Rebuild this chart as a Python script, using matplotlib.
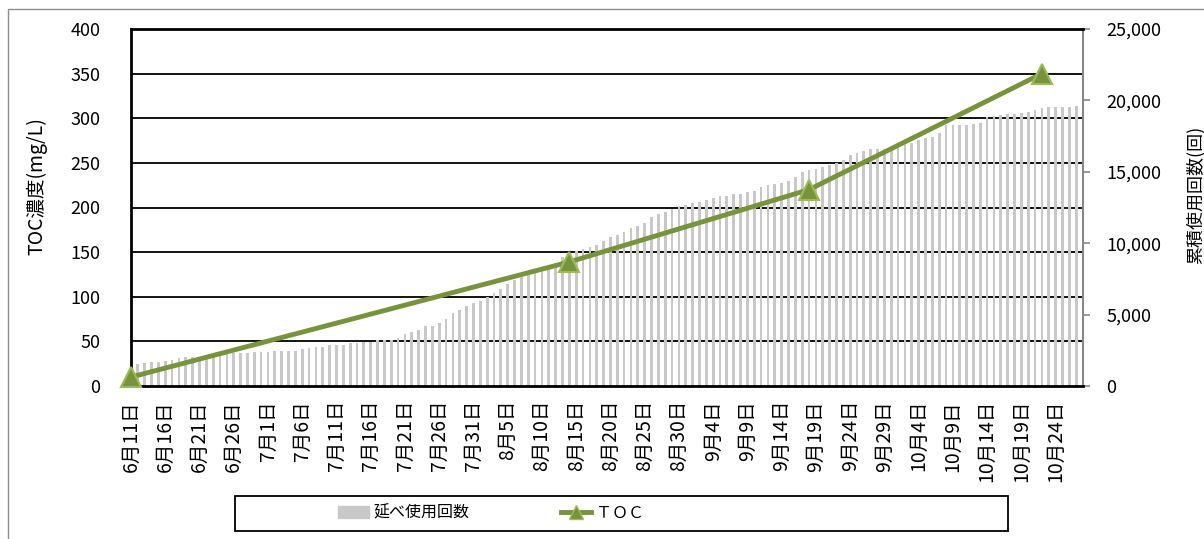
import numpy as np
import pandas as pd
import matplotlib
matplotlib.use('Agg')
import matplotlib.pyplot as plt
from matplotlib.patches import Rectangle, Patch
from matplotlib.lines import Line2D
from matplotlib.ticker import MultipleLocator, FuncFormatter

plt.rcParams['font.family'] = ['Noto Sans CJK JP', 'DejaVu Sans']

# daily categories 6/11 .. 10/28
dates = pd.date_range('2013-06-11', periods=140, freq='D')
day_labels = ['{}月{}日'.format(d.month, d.day) for d in dates]

# cumulative usage count (right axis)
usage_count = [
    1450, 1517, 1587, 1704, 1704, 1774, 1821, 1938, 2008, 2054,
    2054, 2171, 2218, 2218, 2218, 2288, 2288, 2288, 2358, 2358,
    2358, 2475, 2475, 2475, 2475, 2591, 2638, 2755, 2755, 2871,
    2871, 2871, 2988, 3034, 3104, 3104, 3221, 3221, 3221, 3338,
    3642, 3805, 3922, 4202, 4202, 4435,
    4670, 5090, 5320, 5600, 5830, 5970, 6210, 6490, 6770, 7140,
    7420, 7610, 7770, 8000, 8170, 8400, 8630, 9010, 9170, 9470,
    9570, 9760, 9870, 10170, 10410, 10570, 10800, 11040, 11200, 11430,
    11850, 12020, 12200, 12370, 12620, 12670, 12790, 12910, 13030, 13140,
    13310, 13310, 13450, 13450, 13560, 13680,
    13960, 14080, 14150, 14240, 14360, 14660, 15010, 15130, 15200, 15360,
    15480, 15600, 15830, 16180, 16340, 16480, 16570, 16570, 16600, 16620,
    16760, 16880, 17040, 17230, 17340, 17460, 17740, 18280, 18280, 18280,
    18280, 18350, 18440, 18810, 18910, 18980, 19020, 19020, 19090, 19210,
    19330, 19440, 19560, 19560, 19560, 19560, 19610, 19650,
]

# TOC measurements (left axis)
toc_days = ['6月11日', '8月14日', '9月18日', '10月22日']
toc_values = [10, 139, 220, 350]

bar_color = '#c8c8c8'
line_color = '#77933C'

x = np.arange(len(day_labels))
toc_x = [day_labels.index(d) for d in toc_days]

fig = plt.figure(figsize=(12.04, 5.39), dpi=100)
ax = fig.add_axes([131 / 1204, 1 - 386 / 539, 952 / 1204, 357 / 539])

ax.bar(x, usage_count, width=0.4, color=bar_color, zorder=2)
ax.set_xlim(0, len(x) - 1)
ax.set_ylim(0, 25000)

ax2 = ax.twinx()
ax2.plot(toc_x, toc_values, color=line_color, lw=3.5, marker='^', ms=14,
         mfc=line_color, mec='#9BBB59', mew=1.5, clip_on=False, zorder=5)
ax2.set_ylim(0, 400)

# bars axis -> right side, TOC axis -> left side
ax.yaxis.tick_right()
ax.yaxis.set_major_locator(MultipleLocator(5000))
ax.yaxis.set_major_formatter(FuncFormatter(lambda v, p: '{:,.0f}'.format(v)))
ax.yaxis.set_minor_locator(MultipleLocator(25000 / 8))
ax.grid(which='minor', axis='y', color='black', lw=1.3)
ax.set_axisbelow(True)
ax.tick_params(axis='y', which='major', direction='out', length=5, width=1.2,
               color='#888888', pad=12, labelsize=13)
ax.tick_params(axis='y', which='minor', length=0)

ax2.yaxis.tick_left()
ax2.yaxis.set_major_locator(MultipleLocator(50))
ax2.tick_params(axis='y', length=0, pad=22, labelsize=13)
for s in ax2.spines.values():
    s.set_visible(False)

ax.set_xticks(x[::5])
ax.set_xticklabels(day_labels[::5], rotation=90, fontsize=14)
ax.set_xticks(x[10::10], minor=True)
ax.tick_params(axis='x', which='major', length=0, pad=10)
ax.tick_params(axis='x', which='minor', direction='in', length=6, width=1.5)

for s in ['left', 'top', 'bottom']:
    ax.spines[s].set_linewidth(2)
    ax.spines[s].set_color('black')
ax.spines['right'].set_color('#888888')
ax.spines['right'].set_linewidth(1.5)

fig.text(37 / 1204, 1 - 186 / 539, 'TOC濃度(mg/L)', rotation=90,
         ha='center', va='center', fontsize=14)
fig.text(1195 / 1204, 1 - 195 / 539, '累積使用回数(回)', rotation=90,
         ha='center', va='center', fontsize=13)

handles = [Patch(facecolor=bar_color, edgecolor=bar_color),
           Line2D([], [], color=line_color, lw=3.5, marker='^', ms=10,
                  mfc=line_color, mec='#9BBB59')]
fig.legend(handles, ['延べ使用回数', 'ＴＯＣ'], loc='center left',
           bbox_to_anchor=(324 / 1204, 1 - 513 / 539), ncol=2, frameon=False,
           fontsize=11.5, handlelength=1.9, columnspacing=5.7, handletextpad=0.3)

fig.patches.append(Rectangle((235 / 1204, 1 - 531 / 539), 773 / 1204, 35 / 539,
                             transform=fig.transFigure, fill=False,
                             edgecolor='black', lw=1.3))
fig.patches.append(Rectangle((8 / 1204, -0.1), 1.2, 1 - 9 / 539 + 0.1,
                             transform=fig.transFigure, fill=False,
                             edgecolor='#8c8c8c', lw=1))

fig.savefig('out.png', dpi=100)
